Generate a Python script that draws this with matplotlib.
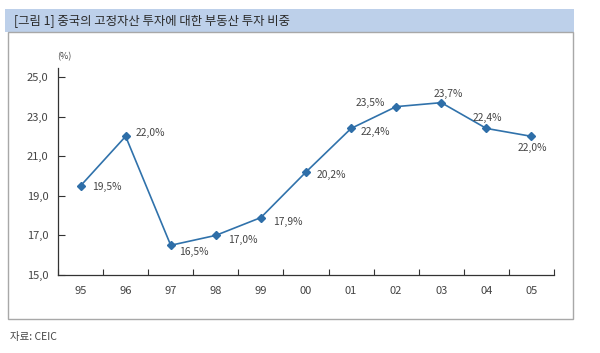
import matplotlib.pyplot as plt
from matplotlib.patches import Rectangle

plt.rcParams["font.family"] = ["Noto Sans CJK KR", "DejaVu Sans"]

years = ["95", "96", "97", "98", "99", "00", "01", "02", "03", "04", "05"]
share = [19.5, 22.0, 16.5, 17.0, 17.9, 20.2, 22.4, 23.5, 23.7, 22.4, 22.0]
yticks = [15.0, 17.0, 19.0, 21.0, 23.0, 25.0]

title = "[그림 1] 중국의 고정자산 투자에 대한 부동산 투자 비중"
source = "자료: CEIC"

# label offsets in pixels (dx, dy, ha)
offsets = [(12, -1, "left"), (10, 3, "left"), (23, -7, "center"),
           (12, -5, "left"), (12, -4, "left"), (11, -3, "left"),
           (10, -4, "left"), (-11, 4, "right"), (7, 9, "center"),
           (1, 10, "center"), (1, -12, "center")]

W, H = 600, 353
fig = plt.figure(figsize=(W / 100, H / 100), dpi=100)


def px(x, y):
    return x / W, 1 - y / H


# title bar and frame
fig.patches.append(Rectangle(px(5, 32), 569 / W, 23 / H, transform=fig.transFigure,
                             facecolor="#bdd0ea", edgecolor="none"))
fig.patches.append(Rectangle(px(8, 319), 565 / W, 287 / H, transform=fig.transFigure,
                             facecolor="none", edgecolor="#a8a8a8", lw=1))
fig.text(*px(14, 21), title, fontsize=8.9, color="#2a2a2a", va="center", ha="left")
fig.text(*px(10, 337), source, fontsize=7.5, color="#444444", va="center", ha="left")

l, b = px(58, 275)
ax = fig.add_axes([l, b, (554 - 58) / W, (275 - 68) / H])
x = list(range(len(years)))
ax.plot(x, share, color="#3072ab", lw=1.2, marker="D", ms=4.5,
        mec="#2e6ea8", mfc="#2e6ea8")

for xi, v, (dx, dy, ha) in zip(x, share, offsets):
    ax.annotate(f"{v:.1f}%".replace(".", ","), (xi, v),
                xytext=(dx * 0.72, dy * 0.72), textcoords="offset points",
                ha=ha, va="center", fontsize=7.4, color="#444444")

ax.set_xlim(-0.5, len(years) - 0.5)
ax.set_ylim(15, 25.45)
ax.set_yticks(yticks)
ax.set_yticklabels([f"{t:.1f}".replace(".", ",") for t in yticks])
ax.set_xticks([i - 0.5 for i in range(len(years) + 1)])
ax.set_xticklabels([])
ax.set_xticks(x, minor=True)
ax.set_xticklabels(years, minor=True)
ax.tick_params(axis="x", which="major", direction="in", length=4, color="#333333")
ax.tick_params(axis="x", which="minor", length=0, pad=8, labelsize=8,
               labelcolor="#444444")
ax.tick_params(axis="y", direction="in", length=5, pad=7, labelsize=8,
               labelcolor="#444444", color="#333333")
for s in ["top", "right"]:
    ax.spines[s].set_visible(False)
for s in ["left", "bottom"]:
    ax.spines[s].set_color("#333333")
    ax.spines[s].set_linewidth(0.9)

fig.text(*px(64, 57), "(%)", fontsize=6.5, color="#444444", ha="center", va="center")

fig.savefig("out.png", dpi=100)
